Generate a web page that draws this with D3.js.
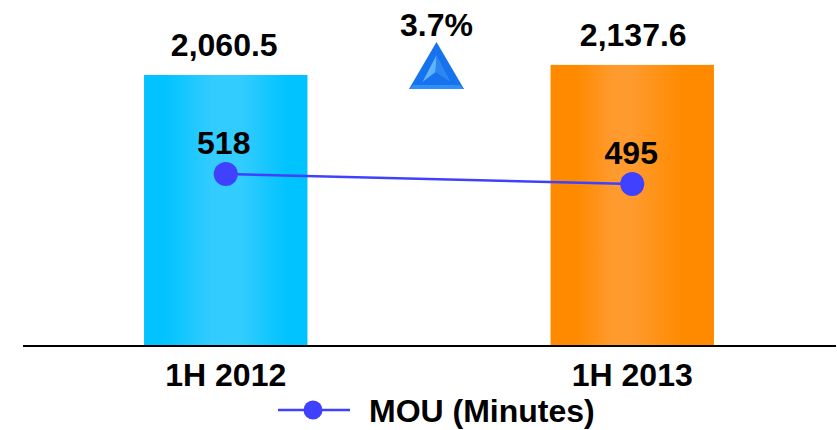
<!DOCTYPE html>
<html>
<head>
<meta charset="utf-8">
<script src="https://cdn.jsdelivr.net/npm/d3@7/dist/d3.min.js"></script>
<style>
html, body { margin: 0; padding: 0; background: #fff; }
svg { display: block; }
text { font-family: "Liberation Sans", Arial, sans-serif; font-weight: 700; fill: #000; }
.axis text { font-size: 32px; }
</style>
</head>
<body>
<svg id="chart" width="837" height="430"></svg>
<script>
// Half-year traffic (bars) and minutes of use per subscriber (line)
const periods = ["1H 2012", "1H 2013"];
const traffic = [2060.5, 2137.6];
const trafficLabels = ["2,060.5", "2,137.6"];
const mou = [518, 495];
const growthLabel = "3.7%";
const legendLabel = "MOU (Minutes)";

const svg = d3.select("#chart");
const baseline = 345;

const x = d3.scaleBand().domain(periods).range([22.5, 835.5]).paddingInner(0.598).paddingOuter(0.299);
const yBar = d3.scaleLinear().domain([0, 2060.5]).range([baseline, 75]);
const yLine = d3.scaleLinear().domain([125, 918]).range([baseline, 0]);

// Horizontal sheen across each bar
const defs = svg.append("defs");
function sheen(id, stops) {
  const g = defs.append("linearGradient").attr("id", id).attr("x1", 0).attr("x2", 1).attr("y1", 0).attr("y2", 0);
  stops.forEach(([o, c]) => g.append("stop").attr("offset", o).attr("stop-color", c));
}
sheen("barBlue", [[0, "#00c3ff"], [0.12, "#00c3ff"], [0.42, "#33ccff"], [0.59, "#33ccff"], [0.88, "#00c3ff"], [1, "#00c3ff"]]);
sheen("barOrange", [[0, "#ff8a00"], [0.16, "#ff8a00"], [0.38, "#ff9a2e"], [0.5, "#ff9a2e"], [0.81, "#ff8a00"], [1, "#ff8a00"]]);
const barFills = ["url(#barBlue)", "url(#barOrange)"];

svg.append("g").selectAll("rect").data(periods).join("rect")
  .attr("x", d => x(d))
  .attr("width", x.bandwidth())
  .attr("y", (d, i) => yBar(traffic[i]))
  .attr("height", (d, i) => baseline - yBar(traffic[i]))
  .attr("fill", (d, i) => barFills[i]);

// Category axis
const axis = svg.append("g").attr("class", "axis")
  .attr("transform", `translate(0,${baseline + 0.5})`)
  .call(d3.axisBottom(x).tickSize(0).tickPadding(18));
axis.select(".domain").attr("stroke", "#000").attr("stroke-width", 2);

// Bar value labels
svg.append("g").selectAll("text").data(periods).join("text")
  .attr("x", (d, i) => x(d) + x.bandwidth() / 2 + (i ? 1 : -1.5))
  .attr("y", (d, i) => yBar(traffic[i]) - 19)
  .attr("text-anchor", "middle")
  .attr("font-size", 32)
  .text((d, i) => trafficLabels[i]);

// MOU line and markers
const cx = d => x(d) + x.bandwidth() / 2;
const line = d3.line().x(d => cx(d)).y((d, i) => yLine(mou[i]));
const lineColor = "#4040ff";
svg.append("path").datum(periods)
  .attr("d", line).attr("fill", "none")
  .attr("stroke", lineColor).attr("stroke-width", 2.5);
svg.append("g").selectAll("circle").data(periods).join("circle")
  .attr("cx", cx).attr("cy", (d, i) => yLine(mou[i])).attr("r", 12).attr("fill", lineColor);
svg.append("g").selectAll("text").data(periods).join("text")
  .attr("x", (d, i) => cx(d) - (i ? 1 : 2))
  .attr("y", (d, i) => yLine(mou[i]) - 20)
  .attr("text-anchor", "middle")
  .attr("font-size", 32)
  .text((d, i) => mou[i]);

// Growth indicator: faceted up-arrow triangle with its percentage
svg.append("text").attr("x", 436.5).attr("y", 36).attr("text-anchor", "middle").attr("font-size", 32).text(growthLabel);
const icon = svg.append("g").attr("transform", "translate(436.5,42)");
icon.append("path").attr("d", "M0,0 L27.5,47 L-27.5,47 Z").attr("fill", "#1772ee");
icon.append("path").attr("d", "M-27.5,47 L27.5,47 L23,43 L-23,43 Z").attr("fill", "#2f8ef7");
icon.append("path").attr("d", "M0,13 L-14,40 L-1,30 Z").attr("fill", "#5fb4fc");
icon.append("path").attr("d", "M0,13 L14,40 L-1,30 Z").attr("fill", "#2d86f2");

// Legend
const legend = svg.append("g").attr("transform", "translate(0,410)");
legend.append("line").attr("x1", 278).attr("x2", 350).attr("stroke", lineColor).attr("stroke-width", 2.5);
legend.append("circle").attr("cx", 313).attr("r", 9.5).attr("fill", lineColor);
legend.append("text").attr("x", 369).attr("y", 12).attr("font-size", 32).text(legendLabel);
</script>
</body>
</html>
